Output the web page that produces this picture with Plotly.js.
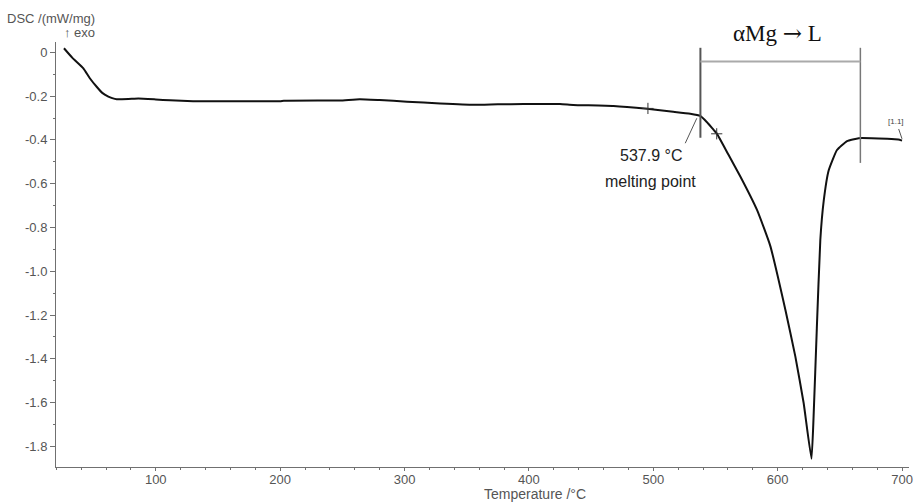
<!DOCTYPE html>
<html>
<head>
<meta charset="utf-8">
<script src="https://cdn.plot.ly/plotly-3.0.1.min.js"></script>
<style>html,body{margin:0;padding:0;background:#fff;}#chart{width:918px;height:502px;}</style>
</head>
<body>
<div id="chart"></div>
<script>
// DSC curve: temperature (°C) and heat flow (mW/mg)
var temperature = [26.2, 33, 41.8, 47, 52.5, 57, 61.9, 65, 68.6, 78, 86, 100, 111.5, 130, 160, 200, 203, 230, 248, 264, 280, 302, 328.7, 355.5, 375, 395.7, 425, 435.6, 468, 495, 516, 529.7, 537.8, 543, 548.5, 551, 560.5, 570, 583.4, 594, 606.2, 614.2, 620.9, 627.2, 628.9, 631.5, 634.3, 637, 641, 647.7, 655.8, 665.2, 688, 697, 700];
var dsc = [0.019, -0.025, -0.073, -0.118, -0.157, -0.185, -0.202, -0.209, -0.214, -0.213, -0.211, -0.215, -0.219, -0.223, -0.223, -0.223, -0.221, -0.220, -0.220, -0.214, -0.218, -0.225, -0.233, -0.239, -0.237, -0.236, -0.236, -0.240, -0.245, -0.258, -0.271, -0.280, -0.290, -0.318, -0.354, -0.370, -0.468, -0.567, -0.720, -0.883, -1.176, -1.389, -1.602, -1.857, -1.663, -1.260, -0.857, -0.680, -0.540, -0.446, -0.405, -0.392, -0.395, -0.398, -0.403];

// Marked points on the curve
var markT = [495.7, 551];
var markV = [-0.256, -0.372];

// Onset / transition bracket
var onsetT = 537.9;
var endT = 666.5;
var bracketTop = 0.021;
var onsetBottom = -0.39;
var endBottom = -0.505;
var bracketLevel = -0.042;

// Tick labels
var yTickVals = [0, -0.2, -0.4, -0.6, -0.8, -1.0, -1.2, -1.4, -1.6, -1.8];
var yTickText = ['0', '-0.2', '-0.4', '-0.6', '-0.8', '-1.0', '-1.2', '-1.4', '-1.6', '-1.8'];
var xTickVals = [100, 200, 300, 400, 500, 600, 700];
var xTickText = ['100', '200', '300', '400', '500', '600', '700'];

var sans = 'Liberation Sans, Arial, sans-serif';
var axisGrey = '#707070';
var textGrey = '#555555';

// pixel -> paper helpers for layout placement
var L = 56, R = 909, T = 42, B = 467;
function px(x) { return (x - L) / (R - L); }
function py(y) { return (B - y) / (B - T); }

var traces = [
  {
    x: temperature, y: dsc, type: 'scatter', mode: 'lines',
    line: {color: '#111111', width: 2, shape: 'spline', smoothing: 0.4},
    hoverinfo: 'skip', showlegend: false
  },
  {
    x: markT, y: markV, type: 'scatter', mode: 'markers',
    marker: {symbol: 'cross-thin', size: 8, line: {color: '#333333', width: 1}},
    hoverinfo: 'skip', showlegend: false
  }
];

var layout = {
  width: 918, height: 502,
  margin: {l: L, r: 918 - R, t: T, b: 502 - B, pad: 0},
  paper_bgcolor: '#ffffff', plot_bgcolor: '#ffffff',
  showlegend: false,
  font: {family: sans, color: textGrey, size: 13},
  xaxis: {
    range: [19.8, 705.6], showgrid: false, zeroline: false,
    showline: true, linecolor: axisGrey, linewidth: 1, mirror: false,
    ticks: 'outside', ticklen: 3, tickcolor: axisGrey, tickwidth: 1,
    ticklabelstandoff: -3,
    tickmode: 'array', tickvals: xTickVals, ticktext: xTickText,
    tickfont: {family: sans, size: 13, color: textGrey},
    minor: {tickmode: 'linear', tick0: 0, dtick: 20, ticks: 'outside', ticklen: 2, tickcolor: axisGrey}
  },
  yaxis: {
    range: [-1.8945, 0.0475], showgrid: false, zeroline: false,
    showline: true, linecolor: axisGrey, linewidth: 1, mirror: false,
    ticks: 'outside', ticklen: 5, tickcolor: axisGrey, tickwidth: 1,
    tickmode: 'array', tickvals: yTickVals, ticktext: yTickText,
    tickfont: {family: sans, size: 13, color: textGrey},
    minor: {tickmode: 'linear', tick0: 0, dtick: 0.1, ticks: 'outside', ticklen: 2, tickcolor: axisGrey}
  },
  shapes: [
    {type: 'line', xref: 'x', yref: 'y', x0: onsetT, x1: onsetT, y0: bracketTop, y1: onsetBottom,
     line: {color: '#555555', width: 2}},
    {type: 'line', xref: 'x', yref: 'y', x0: endT, x1: endT, y0: bracketTop, y1: endBottom,
     line: {color: '#777777', width: 1.5}},
    {type: 'line', xref: 'x', yref: 'y', x0: onsetT, x1: endT, y0: bracketLevel, y1: bracketLevel,
     line: {color: '#aaaaaa', width: 2}},
    {type: 'line', xref: 'x', yref: 'y', x0: 525.7, x1: 535, y0: -0.415, y1: -0.301,
     line: {color: '#555555', width: 1}},
    {type: 'line', xref: 'x', yref: 'y', x0: 697.3, x1: 700, y0: -0.35, y1: -0.395,
     line: {color: '#555555', width: 1}}
  ],
  annotations: [
    {text: 'DSC /(mW/mg)', xref: 'paper', yref: 'paper', x: px(5), y: py(19),
     xanchor: 'left', yanchor: 'middle', showarrow: false,
     font: {family: sans, size: 13, color: textGrey}},
    {text: '↑ exo', xref: 'paper', yref: 'paper', x: px(62), y: py(33),
     xanchor: 'left', yanchor: 'middle', showarrow: false,
     font: {family: sans, size: 13, color: textGrey}},
    {text: 'Temperature /°C', xref: 'x', yref: 'paper', x: 405, y: py(494),
     xanchor: 'center', yanchor: 'middle', showarrow: false,
     font: {family: sans, size: 14, color: textGrey}},
    {text: 'αMg <span style="font-family:DejaVu Serif">→</span> L', xref: 'x', yref: 'paper', x: 599.6, y: py(33),
     xanchor: 'center', yanchor: 'middle', showarrow: false,
     font: {family: 'Liberation Serif, Times New Roman, serif', size: 23, color: '#111111'}},
    {text: '537.9 °C', xref: 'x', yref: 'paper', x: 498, y: py(155),
     xanchor: 'center', yanchor: 'middle', showarrow: false,
     font: {family: sans, size: 16, color: '#222222'}},
    {text: 'melting point', xref: 'x', yref: 'paper', x: 497.6, y: py(181),
     xanchor: 'center', yanchor: 'middle', showarrow: false,
     font: {family: sans, size: 16, color: '#222222'}},
    {text: '[1.1]', xref: 'x', yref: 'paper', x: 695.5, y: py(121),
     xanchor: 'center', yanchor: 'middle', showarrow: false,
     font: {family: sans, size: 8, color: '#444444'}}
  ]
};

Plotly.newPlot('chart', traces, layout, {staticPlot: true, displayModeBar: false});
</script>
</body>
</html>
